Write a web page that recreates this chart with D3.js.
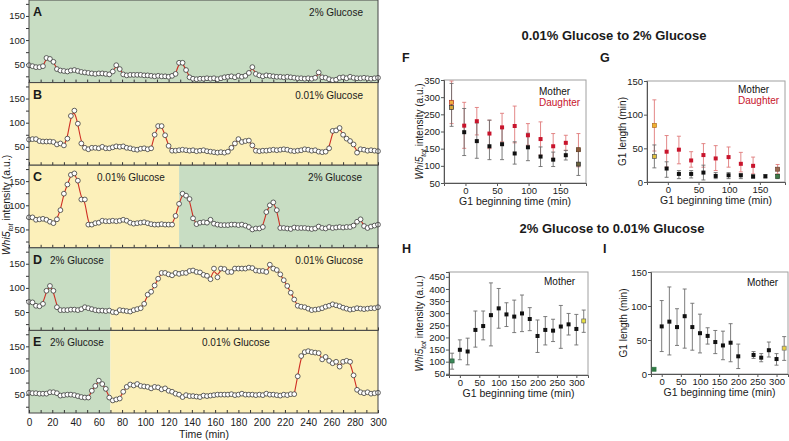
<!DOCTYPE html>
<html>
<head>
<meta charset="utf-8">
<script src="https://cdn.jsdelivr.net/npm/d3@7"></script>
<style>
  body { margin: 0; background: #fff; }
  svg text { font-family: Arial, "Liberation Sans", sans-serif; fill: #1a1a1a; }
</style>
</head>
<body>
<svg id="fig" width="789" height="441"></svg>
<script>
// ---- time-lapse traces (A-E), one frame every 3 min, 0..300 min ----
const FRAME_MIN = 3;

const traceA = [48, 46, 44, 44, 46, 63, 61, 55, 40, 37,
  36, 35, 37, 38, 36, 34, 33, 32, 31, 30,
  31, 31, 30, 29, 35, 48, 40, 29, 27, 28,
  28, 28, 28, 27, 27, 26, 25, 26, 25, 25,
  24, 26, 30, 53, 53, 38, 23, 20, 19, 20,
  20, 21, 20, 21, 19, 21, 23, 24, 25, 23,
  26, 24, 26, 32, 44, 30, 27, 25, 27, 26,
  25, 24, 24, 23, 24, 23, 22, 21, 21, 20,
  21, 20, 22, 33, 23, 22, 19, 17, 18, 22,
  23, 21, 24, 22, 21, 21, 22, 21, 20, 21, 22];

const traceB = [65, 66, 66, 62, 61, 61, 61, 60, 55, 57,
  53, 67, 114, 125, 98, 57, 48, 45, 48, 48,
  47, 50, 47, 47, 49, 51, 50, 51, 48, 47,
  45, 44, 46, 47, 45, 47, 75, 93, 93, 74,
  52, 42, 42, 43, 44, 43, 42, 43, 41, 42,
  43, 41, 40, 39, 38, 39, 38, 40, 48, 57,
  66, 60, 62, 63, 53, 42, 41, 42, 42, 43,
  44, 43, 44, 45, 44, 42, 41, 42, 43, 45,
  44, 42, 43, 40, 39, 40, 47, 83, 84, 89,
  75, 67, 62, 55, 38, 45, 44, 42, 43, 42, 41];

const traceC = [75, 75, 70, 71, 72, 70, 66, 63, 71, 90,
  124, 143, 163, 166, 151, 112, 112, 60, 60, 63,
  64, 68, 67, 67, 68, 67, 68, 70, 68, 64,
  62, 63, 64, 65, 63, 61, 60, 60, 61, 60,
  60, 60, 78, 103, 124, 120, 113, 73, 61, 64,
  65, 64, 70, 62, 60, 59, 59, 59, 60, 60,
  59, 60, 58, 55, 50, 52, 52, 55, 86, 100,
  106, 90, 53, 53, 52, 51, 54, 53, 53, 53,
  52, 51, 52, 56, 53, 52, 55, 53, 54, 55,
  54, 55, 55, 58, 66, 71, 57, 53, 56, 58, 60];

const traceD = [71, 70, 63, 62, 67, 94, 104, 94, 60, 54,
  54, 54, 55, 55, 54, 56, 60, 58, 56, 54,
  53, 53, 52, 53, 50, 49, 54, 53, 52, 51,
  54, 56, 58, 67, 86, 92, 105, 119, 131, 131,
  128, 126, 131, 129, 131, 131, 135, 136, 133, 132,
  127, 125, 118, 140, 122, 140, 139, 133, 133, 140,
  140, 140, 140, 142, 141, 136, 135, 135, 133, 148,
  140, 137, 128, 116, 104, 90, 76, 63, 61, 60,
  57, 54, 55, 56, 58, 61, 63, 66, 64, 62,
  59, 57, 55, 56, 58, 57, 56, 57, 58, 58, 60];

const traceE = [54, 53, 53, 52, 52, 52, 55, 55, 53, 48,
  49, 50, 50, 49, 47, 45, 44, 44, 58, 68,
  79, 72, 62, 44, 38, 40, 42, 56, 66, 71,
  69, 72, 68, 67, 66, 63, 66, 65, 61, 63,
  58, 56, 52, 50, 45, 49, 47, 47, 46, 45,
  48, 47, 48, 49, 50, 50, 50, 50, 51, 49,
  50, 52, 50, 50, 50, 49, 50, 49, 52, 50,
  50, 49, 48, 50, 49, 51, 51, 88, 130, 138,
  140, 138, 137, 136, 123, 128, 120, 115, 118, 108,
  118, 120, 118, 90, 60, 55, 53, 55, 52, 53, 54];

// pulse fits (time windows, min)
const fitA = [[12, 27], [69, 84], [126, 141], [186, 198], [246, 255]];
const fitB = [[30, 48], [105, 123], [171, 195], [255, 285]];
const fitC = [[21, 54], [120, 144], [198, 216], [276, 291]];
const fitD = [[9, 27], [93, 117], [156, 168], [204, 231]];
const fitE = [[51, 84], [228, 282]];

// growth medium per period: [label, from, to]
const mediaA = [["2% Glucose", 0, 300]];
const mediaB = [["0.01% Glucose", 0, 300]];
const mediaC = [["0.01% Glucose", 0, 129], ["2% Glucose", 129, 300]];
const mediaD = [["2% Glucose", 0, 70], ["0.01% Glucose", 70, 300]];
const mediaE = [["2% Glucose", 0, 70], ["0.01% Glucose", 70, 300]];

// ---- F, G: 0.01% -> 2% glucose ----
const g1StartFG = [-22, -2, 18, 38, 58, 78, 99, 119, 139, 159, 179];
const whiDaughterF = [285, 217, 230, 194, 212, 216, 189, 178, 157, 167, 147];
const whiDaughterFHi = [347, 285, 270, 233, 253, 274, 223, 228, 194, 189, 194];
const whiDaughterFLo = [223, 151, 190, 150, 170, 167, 160, 131, 121, 145, 97];
const whiMotherF = [270, 198, 172, 157, 163, 136, 154, 127, 118, 131, 105];
const whiMotherFHi = [340, 267, 225, 233, 210, 170, 195, 155, 140, 145, 145];
const whiMotherFLo = [215, 130, 122, 118, 118, 105, 115, 98, 98, 117, 72];

const g1DaughterG = [84, 45, 48, 32, 40, 35, 37, 27, 24, null, 19];
const g1DaughterGHi = [122, 69, 68, 45, 57, 54, 52, 44, 37, null, 26];
const g1DaughterGLo = [46, 22, 27, 22, 22, 17, 22, 15, 12, null, 12];
const g1MotherG = [38, 20, 12, 12, 14, 9, 10, 10, 8, 8.5, 8.5];
const g1MotherGHi = [55, 30, 17, 17, 25, 14, 14, 12, 11, 11, 11];
const g1MotherGLo = [21, 7, 5, 6, 3, 5, 5, 5, 6, 6, 5];

// ---- H, I: 2% -> 0.01% glucose ----
const g1StartH = [-20, 0, 20, 40, 60, 80, 100, 120, 140, 160, 180, 200, 220, 240, 260, 280, 300, 319];
const whiMotherH = [103, 149, 142, 231, 247, 292, 320, 295, 286, 299, 276, 206, 231, 228, 245, 254, 235, 268];
const whiMotherHHi = [135, 190, 197, 309, 309, 425, 402, 343, 354, 375, 323, 272, 286, 275, 332, 299, 295, 313];
const whiMotherHLo = [69, 108, 87, 160, 190, 165, 238, 245, 220, 224, 228, 138, 169, 183, 155, 210, 169, 221];

const g1StartI = [-20, 0, 20, 40, 60, 80, 100, 120, 140, 160, 180, 200, 240, 260, 280, 300, 320];
const g1MotherI = [7, 70, 77, 69, 85, 69, 60, 56, 47, 42, 46, 26, 28, 24, 35, 22, 38];
const g1MotherIHi = [null, 108, 128, 96, 125, 104, 88, 68, 64, 63, 74, 44, 33, 30, 47, 30, 55];
const g1MotherILo = [null, 33, 28, 42, 38, 35, 31, 44, 30, 21, 18, 8, 23, 18, 25, 13, 20];

// =====================================================================
const svg = d3.select("#fig");

const mediumFill = { "2% Glucose": "#c8ddc3", "0.01% Glucose": "#fcf0ba" };
const RED = "#cf2e24";

const PANEL_H = 82.6;
const tx = d3.scaleLinear().domain([0, 300]).range([29, 378]);
const ty = d3.scaleLinear().domain([12, 183]).range([PANEL_H, 0]);

const panels = [
  { letter: "A", values: traceA, fits: fitA, media: mediaA, spots: [[363, "end"]] },
  { letter: "B", values: traceB, fits: fitB, media: mediaB, spots: [[363, "end"]] },
  { letter: "C", values: traceC, fits: fitC, media: mediaC, spots: [[97, "start"], [362, "end"]] },
  { letter: "D", values: traceD, fits: fitD, media: mediaD, spots: [[50, "start"], [363, "end"]] },
  { letter: "E", values: traceE, fits: fitE, media: mediaE, spots: [[50, "start"], [202, "start"]] }
];

panels.forEach((p, i) => {
  const g = svg.append("g").attr("transform", `translate(0,${i * PANEL_H})`);
  const pts = p.values.map((v, k) => ({ t: k * FRAME_MIN, v: v }));

  g.selectAll(".bg").data(p.media).enter().append("rect")
    .attr("x", d => tx(d[1])).attr("y", 0)
    .attr("width", d => tx(d[2]) - tx(d[1])).attr("height", PANEL_H)
    .attr("fill", d => mediumFill[d[0]]);

  // bottom ticks pointing inward
  const last = i === panels.length - 1;
  const xAxis = g.append("g").attr("transform", `translate(0,${PANEL_H})`)
    .call(d3.axisBottom(tx).tickValues(d3.range(0, 301, 10)).tickSize(-3).tickPadding(6)
      .tickFormat(d => (last && d % 20 === 0) ? d : ""));
  xAxis.select(".domain").remove();
  xAxis.selectAll("line").attr("stroke", "#333");
  xAxis.selectAll("text").style("font-size", "10px");

  const yAxis = g.append("g").attr("transform", `translate(${tx(0)},0)`)
    .call(d3.axisLeft(ty).tickValues([25, 50, 75, 100, 125, 150, 175]).tickSize(3).tickPadding(1)
      .tickFormat(d => d % 50 ? "" : d));
  yAxis.select(".domain").remove();
  yAxis.selectAll("line").attr("stroke", "#333");
  yAxis.selectAll("text").style("font-size", "9.5px");

  const line = d3.line().x(d => tx(d.t)).y(d => ty(d.v)).curve(d3.curveBasis);
  p.fits.forEach(w => {
    g.append("path")
      .attr("d", line(pts.filter(d => d.t >= w[0] && d.t <= w[1])))
      .attr("fill", "none").attr("stroke", RED).attr("stroke-width", 1.1);
  });

  g.selectAll(".pt").data(pts).enter().append("circle")
    .attr("cx", d => tx(d.t)).attr("cy", d => ty(d.v)).attr("r", 2.4)
    .attr("fill", "#fff").attr("stroke", "#3a3a3a").attr("stroke-width", 0.8);

  g.append("rect").attr("x", tx(0)).attr("y", 0)
    .attr("width", tx(300) - tx(0)).attr("height", PANEL_H)
    .attr("fill", "none").attr("stroke", "#444").attr("stroke-width", 1);

  g.append("text").text(p.letter).attr("x", 33).attr("y", 16)
    .style("font-size", "12.5px").style("font-weight", 700);
  p.media.forEach((m, j) => {
    g.append("text").text(m[0]).attr("x", p.spots[j][0]).attr("y", 16)
      .attr("text-anchor", p.spots[j][1]).style("font-size", "10px");
  });
});

svg.append("text").text("Time (min)").attr("x", 204).attr("y", 438)
  .attr("text-anchor", "middle").style("font-size", "10.5px");

function whiLabel(sel) {
  sel.append("tspan").text("Whi5").style("font-style", "italic");
  sel.append("tspan").text("tot").style("font-style", "italic")
    .style("font-size", "7px").attr("dy", 2.5);
  sel.append("tspan").text(" intensity (a.u.)").attr("dy", -2.5);
}

svg.append("text").attr("transform", "translate(10,205) rotate(-90)")
  .attr("text-anchor", "middle").style("font-size", "10.5px").call(whiLabel);

// ---- right-hand scatter panels ----
function drawPlot(o) {
  const g = svg.append("g");
  const xs = d3.scaleLinear().domain(o.xDomain).range(o.xRange);
  const ys = d3.scaleLinear().domain(o.yDomain).range(o.yRange);

  g.append("rect").attr("x", o.xRange[0]).attr("y", o.yRange[1])
    .attr("width", o.xRange[1] - o.xRange[0]).attr("height", o.yRange[0] - o.yRange[1])
    .attr("fill", "none").attr("stroke", "#a0a0a0");

  const ax = g.append("g").attr("transform", `translate(0,${o.yRange[0]})`)
    .call(d3.axisBottom(xs).tickValues(o.xTicks).tickSize(3).tickPadding(1));
  const ay = g.append("g").attr("transform", `translate(${o.xRange[0]},0)`)
    .call(d3.axisLeft(ys).tickValues(o.yTicks).tickSize(3).tickPadding(1));
  [ax, ay].forEach(a => {
    a.selectAll(".domain, line").attr("stroke", "#555");
    a.selectAll("text").style("font-size", "9.5px");
  });

  o.series.forEach(s => {
    s.x.forEach((xv, i) => {
      if (s.y[i] == null || !s.hi || s.hi[i] == null) return;
      const cx = xs(xv), a = ys(s.hi[i]), b = ys(s.lo[i]);
      g.append("line").attr("x1", cx).attr("x2", cx).attr("y1", a).attr("y2", b)
        .attr("stroke", s.bar).attr("stroke-width", 0.9);
      [a, b].forEach(yy => g.append("line").attr("x1", cx - 2).attr("x2", cx + 2)
        .attr("y1", yy).attr("y2", yy).attr("stroke", s.bar).attr("stroke-width", 0.9));
    });
  });
  o.series.forEach(s => {
    s.x.forEach((xv, i) => {
      if (s.y[i] == null) return;
      const sp = s.special && s.special[i];
      g.append("rect").attr("x", xs(xv) - 2).attr("y", ys(s.y[i]) - 2)
        .attr("width", 4).attr("height", 4)
        .attr("fill", sp ? sp[0] : s.color)
        .attr("stroke", sp ? sp[1] : "none").attr("stroke-width", 0.7);
    });
  });

  o.legend.forEach((l, i) => {
    g.append("text").text(l[0]).attr("x", o.legendX).attr("y", o.legendY + i * 10.5)
      .style("font-size", "10px").style("fill", l[1]);
  });

  const yl = g.append("text")
    .attr("transform", `translate(${o.yLabelX},${(o.yRange[0] + o.yRange[1]) / 2}) rotate(-90)`)
    .attr("text-anchor", "middle").style("font-size", "10px");
  if (o.yLabel) yl.text(o.yLabel); else yl.call(whiLabel);

  g.append("text").text("G1 beginning time (min)")
    .attr("x", (o.xRange[0] + o.xRange[1]) / 2).attr("y", o.yRange[0] + 22)
    .attr("text-anchor", "middle").style("font-size", "10.5px");

  g.append("text").text(o.letter).attr("x", o.letterX).attr("y", o.letterY)
    .style("font-size", "12.5px").style("font-weight", 700);
}

const MOTHER = "#111111", DAUGHTER = "#c8142c";
const MOTHER_BAR = "#6e6e6e", DAUGHTER_BAR = "#e07a7a";

svg.append("text").text("0.01% Glucose to 2% Glucose").attr("x", 614).attr("y", 40)
  .attr("text-anchor", "middle").style("font-size", "13px").style("font-weight", 700);
svg.append("text").text("2% Glucose to 0.01% Glucose").attr("x", 612).attr("y", 233)
  .attr("text-anchor", "middle").style("font-size", "13px").style("font-weight", 700);

drawPlot({
  letter: "F", letterX: 402, letterY: 62,
  xDomain: [-34, 191], xRange: [444, 586], xTicks: [0, 50, 100, 150],
  yDomain: [50, 350], yRange: [183, 80], yTicks: [50, 100, 150, 200, 250, 300, 350],
  yLabelX: 423, legendX: 539, legendY: 95,
  legend: [["Mother", MOTHER], ["Daughter", DAUGHTER]],
  series: [
    { x: g1StartFG, y: whiDaughterF, hi: whiDaughterFHi, lo: whiDaughterFLo, color: DAUGHTER, bar: DAUGHTER_BAR,
      special: { 0: ["#f0b040", "#b03020"], 10: ["#8a5a3a", "#5a3a20"] } },
    { x: g1StartFG, y: whiMotherF, hi: whiMotherFHi, lo: whiMotherFLo, color: MOTHER, bar: MOTHER_BAR,
      special: { 0: ["#d8a838", "#333"], 10: ["#6a6038", "#333"] } }
  ]
});

drawPlot({
  letter: "G", letterX: 600, letterY: 62,
  xDomain: [-34, 191], xRange: [647, 785], xTicks: [0, 50, 100, 150],
  yDomain: [0, 150], yRange: [182, 81], yTicks: [0, 50, 100, 150],
  yLabelX: 626, yLabel: "G1 length (min)", legendX: 738, legendY: 93,
  legend: [["Mother", MOTHER], ["Daughter", DAUGHTER]],
  series: [
    { x: g1StartFG, y: g1DaughterG, hi: g1DaughterGHi, lo: g1DaughterGLo, color: DAUGHTER, bar: DAUGHTER_BAR,
      special: { 0: ["#f0b030", "#b07020"], 10: ["#9a6a50", "#6a4030"] } },
    { x: g1StartFG, y: g1MotherG, hi: g1MotherGHi, lo: g1MotherGLo, color: MOTHER, bar: MOTHER_BAR,
      special: { 0: ["#e0c040", "#555"], 10: ["#3f7a48", "#2a4a2a"] } }
  ]
});

drawPlot({
  letter: "H", letterX: 402, letterY: 253,
  xDomain: [-28, 330], xRange: [449, 588], xTicks: [0, 50, 100, 150, 200, 250, 300],
  yDomain: [45, 470], yRange: [375, 272], yTicks: [50, 100, 150, 200, 250, 300, 350, 400, 450],
  yLabelX: 423, legendX: 544, legendY: 285,
  legend: [["Mother", MOTHER]],
  series: [
    { x: g1StartH, y: whiMotherH, hi: whiMotherHHi, lo: whiMotherHLo, color: MOTHER, bar: MOTHER_BAR,
      special: { 0: ["#3a8a5a", "#2a5a3a"], 17: ["#e8e040", "#666"] } }
  ]
});

drawPlot({
  letter: "I", letterX: 603, letterY: 253,
  xDomain: [-28, 330], xRange: [651, 788], xTicks: [0, 50, 100, 150, 200, 250, 300],
  yDomain: [0, 150], yRange: [374, 272], yTicks: [0, 50, 100, 150],
  yLabelX: 627, yLabel: "G1 length (min)", legendX: 747, legendY: 286,
  legend: [["Mother", MOTHER]],
  series: [
    { x: g1StartI, y: g1MotherI, hi: g1MotherIHi, lo: g1MotherILo, color: MOTHER, bar: MOTHER_BAR,
      special: { 0: ["#2f7a44", "#2f7a44"], 16: ["#e8d040", "#777"] } }
  ]
});
</script>
</body>
</html>
